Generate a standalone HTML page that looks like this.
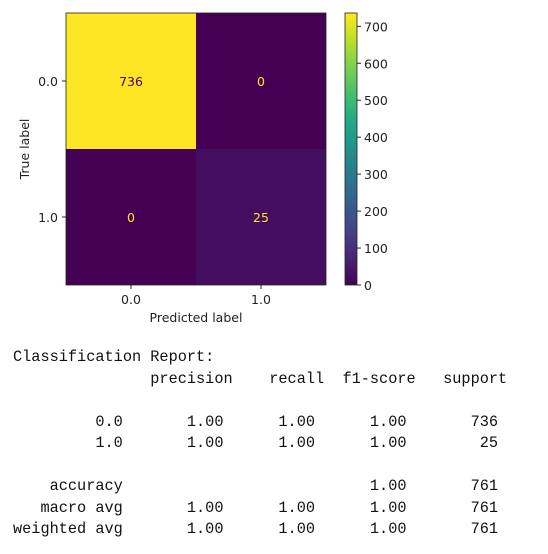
<!DOCTYPE html>
<html><head><meta charset="utf-8">
<style>
body{margin:0;background:#fff;width:548px;height:554px;overflow:hidden;position:relative;font-family:"DejaVu Sans","Liberation Sans",sans-serif;}
#chart{position:absolute;left:0;top:0;}
#report{position:absolute;left:13px;top:347px;margin:0;font-family:"Liberation Mono",monospace;font-size:15.25px;line-height:21.5px;color:#111;}
</style></head><body>
<svg id="chart" width="548" height="330" xmlns="http://www.w3.org/2000/svg"></svg>
<pre id="report">Classification Report:
               precision    recall  f1-score   support

         0.0       1.00      1.00      1.00       736
         1.0       1.00      1.00      1.00        25

    accuracy                           1.00       761
   macro avg       1.00      1.00      1.00       761
weighted avg       1.00      1.00      1.00       761</pre>
<script>
const classLabels=["0.0","1.0"];
const matrixValues=[[736,0],[0,25]];
const cbarTicks=[0,100,200,300,400,500,600,700];
const NS="http://www.w3.org/2000/svg";
const svg=document.getElementById('chart');
const X0=66,X1=326,Y0=13,Y1=285;
const vmin=0,vmax=Math.max(...matrixValues.flat());
const stops=[[0,[68,1,84]],[0.1,[72,36,117]],[0.2,[65,68,135]],[0.3,[53,95,141]],[0.4,[42,120,142]],[0.5,[33,145,140]],[0.6,[34,168,132]],[0.7,[68,191,112]],[0.8,[122,209,81]],[0.9,[189,223,38]],[1,[253,231,37]]];
function viridis(t){t=Math.max(0,Math.min(1,t));for(let i=1;i<stops.length;i++){if(t<=stops[i][0]){const a=stops[i-1],b=stops[i],f=(t-a[0])/(b[0]-a[0]);const c=a[1].map((v,k)=>Math.round(v+(b[1][k]-v)*f));return `rgb(${c})`;}}return 'rgb(253,231,37)';}
function el(tag,attrs,text){const e=document.createElementNS(NS,tag);for(const k in attrs)e.setAttribute(k,attrs[k]);if(text!==undefined)e.textContent=text;svg.appendChild(e);return e;}
const n=classLabels.length,cw=(X1-X0)/n,ch=(Y1-Y0)/n;
const xPos=i=>X0+cw*(i+0.5), yPos=i=>Y0+ch*(i+0.5);
matrixValues.forEach((row,r)=>row.forEach((v,c)=>{
  const t=(v-vmin)/(vmax-vmin);
  const rect=el('rect',{x:X0+c*cw,y:Y0+r*ch,width:cw,height:ch,fill:viridis(t)});
  
  
  const tx=el('text',{x:xPos(c),y:yPos(r)+5,'text-anchor':'middle','font-size':'12.5',fill:t>0.5?'#440154':'#fde725'},String(v));
  
  
}));
el('rect',{x:X0,y:Y0,width:X1-X0,height:Y1-Y0,fill:'none',stroke:'#222','stroke-width':'0.8'});
classLabels.forEach((l,i)=>{
  el('line',{x1:xPos(i),x2:xPos(i),y1:Y1,y2:Y1+4,stroke:'#222'});
  const a=el('text',{x:xPos(i),y:Y1+19,'text-anchor':'middle','font-size':'12.5',fill:'#222'},l);
  
  
  el('line',{x1:X0-4,x2:X0,y1:yPos(i),y2:yPos(i),stroke:'#222'});
  const b=el('text',{x:X0-8,y:yPos(i)+5,'text-anchor':'end','font-size':'12.5',fill:'#222'},l);
  
  
});
const xt=el('text',{x:(X0+X1)/2,y:322,'text-anchor':'middle','font-size':'12.5',fill:'#222'},'Predicted label');


const yt=el('text',{x:0,y:0,'text-anchor':'middle','font-size':'12.5',fill:'#222',transform:`translate(29,${(Y0+Y1)/2}) rotate(-90)`},'True label');


const CX0=345,CX1=357;
const defs=el('defs',{});
const g=document.createElementNS(NS,'linearGradient');g.setAttribute('id','vir');g.setAttribute('x1','0');g.setAttribute('y1','1');g.setAttribute('x2','0');g.setAttribute('y2','0');
stops.forEach(s=>{const st=document.createElementNS(NS,'stop');st.setAttribute('offset',s[0]);st.setAttribute('stop-color',viridis(s[0]));g.appendChild(st);});
defs.appendChild(g);
const cb=el('rect',{x:CX0,y:Y0,width:CX1-CX0,height:Y1-Y0,fill:'url(#vir)',stroke:'#222','stroke-width':'0.8'});


const cy=v=>Y1-(v-vmin)/(vmax-vmin)*(Y1-Y0);
cbarTicks.forEach(v=>{
  el('line',{x1:CX1,x2:CX1+4,y1:cy(v),y2:cy(v),stroke:'#222'});
  const t=el('text',{x:CX1+7,y:cy(v)+5,'font-size':'12.5',fill:'#222'},String(v));
  
  
});
</script>
</body></html>
